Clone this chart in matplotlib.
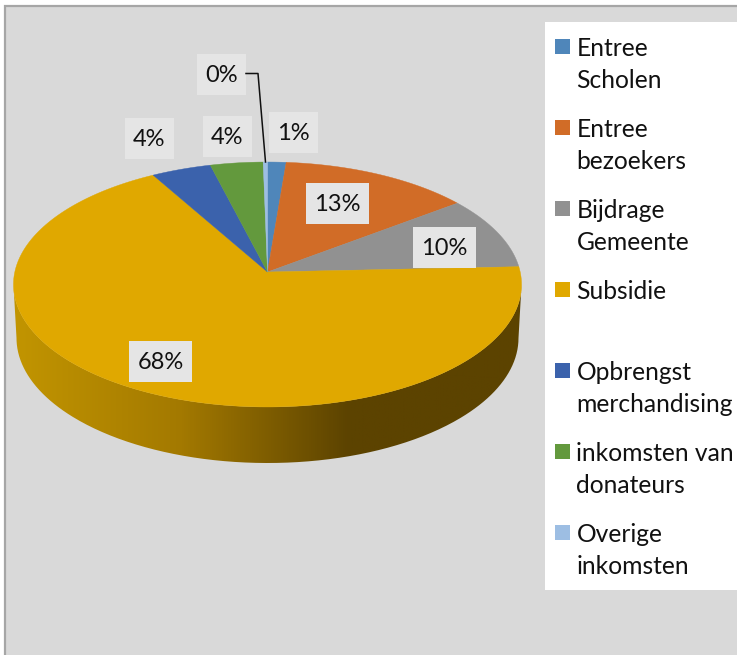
import numpy as np
import matplotlib
matplotlib.use("Agg")
import matplotlib.pyplot as plt
from matplotlib.colors import LinearSegmentedColormap
from matplotlib.patches import Rectangle, PathPatch
from matplotlib.path import Path

CATEGORIES = [
    ["Entree", "Scholen"],
    ["Entree", "bezoekers"],
    ["Bijdrage", "Gemeente"],
    ["Subsidie"],
    ["Opbrengst", "merchandising"],
    ["inkomsten van", "donateurs"],
    ["Overige", "inkomsten"],
]
VALUES = [1.3, 13.4, 9.6, 67.5, 4.2, 3.7, 0.3]
LABELS = ["1%", "13%", "10%", "68%", "4%", "4%", "0%"]
COLORS = ["#4F86BA", "#D16C27", "#919191", "#E0A800", "#3B62AC", "#63993D", "#9DBEE3"]

# centre of each grey label box, in pixels
LABEL_POS = [(293.5, 132.5), (337.5, 203), (444.5, 247), (160.5, 361), (149.5, 138.5), (227.5, 136.5), (221.5, 74.5)]

FONT = "Lato"
LEGEND_SIZE = 17.7
LABEL_SIZE = 17
BG = "#D9D9D9"

# the pie is a circle seen in perspective, apex is not the ellipse centre
APEX_X, APEX_Y = 267.5, 272
A, B, K = 252.7, 121.2, 0.102


def rim_point(t):
    """t in radians, clockwise from the top of the pie"""
    u, v = np.sin(t), np.cos(t)
    return APEX_X + A * u / (1 + K * v), APEX_Y - B * v / (1 + K * v)


fig = plt.figure(figsize=(7.37, 6.55), dpi=100)
ax = fig.add_axes([0, 0, 1, 1])
ax.set_xlim(0, 737)
ax.set_ylim(655, 0)
ax.axis("off")

# chart area and border
ax.add_patch(Rectangle((5, 6), 740, 660, facecolor=BG, edgecolor="#A6A6A6", linewidth=1.6, zorder=0))

# side of the pie, front part only
widest = np.arctan2(1, -K)
top_x, top_y = rim_point(np.linspace(widest, 2 * np.pi - widest, 300))
s = np.linspace(0, np.pi, 300)
low_x = 267.5 + 251 * np.cos(s)
low_y = 338 + 125 * np.sin(s)
side_x = np.concatenate([low_x, top_x[::-1]])
side_y = np.concatenate([low_y, top_y[::-1]])
side_cmap = LinearSegmentedColormap.from_list(
    "side",
    [(0, "#C29500"), (0.33, "#A37900"), (0.66, "#5C4300"), (1, "#5C4300")],
)
grad = np.linspace(0, 1, 512).reshape(1, -1)
img = ax.imshow(grad, extent=(13, 522, 470, 280), cmap=side_cmap, aspect="auto", zorder=1)
img.set_clip_path(PathPatch(Path(np.column_stack([side_x, side_y])), transform=ax.transData))
ax.set_xlim(0, 737)
ax.set_ylim(655, 0)

# top of the pie
edges = np.cumsum([0] + VALUES) / sum(VALUES) * 2 * np.pi
for i, color in enumerate(COLORS):
    tt = np.linspace(edges[i], edges[i + 1], 200)
    x, y = rim_point(tt)
    ax.fill(np.r_[APEX_X, x], np.r_[APEX_Y, y], color=color, linewidth=0.3, zorder=2)

# data labels
for label, (cx, cy) in zip(LABELS, LABEL_POS):
    w = 49 if len(label) == 2 else 63
    ax.add_patch(Rectangle((cx - w / 2, cy - 20.5), w, 41, facecolor="#E5E5E5", edgecolor="none", zorder=3))
    ax.text(cx, cy + 1.5, label, family=FONT, fontsize=LABEL_SIZE, color="#111111", ha="center", va="center", zorder=4)

# leader line of the 0% label
ax.plot([246, 258, 265.5], [73.5, 73.5, 162], color="#111111", linewidth=1.1, zorder=5)

# legend
ax.add_patch(Rectangle((545, 22), 195, 568, facecolor="white", edgecolor="none", zorder=3))
for i, (lines, color) in enumerate(zip(CATEGORIES, COLORS)):
    y = 47 + i * 81
    ax.add_patch(Rectangle((555, y - 8), 15, 15, facecolor=color, edgecolor="none", zorder=4))
    for j, line in enumerate(lines):
        ax.text(576.5, y + 1.5 + j * 32, line, family=FONT, fontsize=LEGEND_SIZE, color="#111111", va="center", zorder=4)

fig.savefig("out.png", dpi=100)
